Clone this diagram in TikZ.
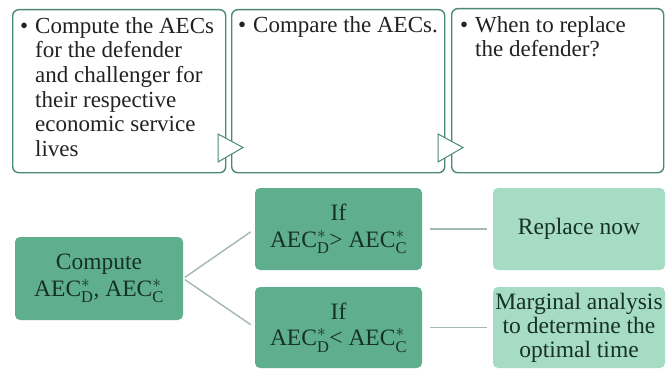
\documentclass[tikz,border=0pt]{standalone}
\usepackage{fontspec}
\setmainfont{Liberation Serif}
\definecolor{edgegreen}{HTML}{4A8A74}
\definecolor{midgreen}{HTML}{5FAE8E}
\definecolor{lightgreen}{HTML}{A6DCC4}
\definecolor{connline}{HTML}{A3B8AE}
\definecolor{textdark}{HTML}{222222}
\definecolor{textgreen}{HTML}{16302A}
\begin{document}
\begin{tikzpicture}[x=1pt,y=-1pt,
  topbox/.style={draw=edgegreen, line width=1.4pt, rounded corners=6pt, fill=white, inner sep=0pt, anchor=north west},
  toptext/.style={font=\fontsize{23}{24.7}\selectfont, align=left, inner sep=0pt, text=textdark, anchor=north west},
  tri/.style={draw=edgegreen, line width=1pt, fill=white, line join=miter},
  midbox/.style={fill=midgreen, rounded corners=5pt, inner sep=0pt, align=center, text=textgreen, font=\fontsize{23.5}{26.5}\selectfont},
  lightbox/.style={fill=lightgreen, rounded corners=5pt, inner sep=0pt, align=center, text=textgreen, font=\fontsize{23.5}{24}\selectfont},
  conn/.style={draw=connline, line width=1.4pt}
]
\useasboundingbox (0,0) rectangle (666,369);
\fill[white] (0,0) rectangle (666,369);

% top boxes
\node[topbox, minimum width=213pt, minimum height=163pt] (b1) at (12,9) {};
\node[topbox, minimum width=213pt, minimum height=163pt] (b2) at (231,9) {};
\node[topbox, minimum width=212pt, minimum height=164pt] (b3) at (451,8) {};

% arrow triangles
\draw[tri] (218,134) -- (243,147.5) -- (218,162) -- cycle;
\draw[tri] (438,134) -- (463,147.5) -- (438,162) -- cycle;

% top texts
\node[toptext] (t1) at (35,17) {\llap{\textbullet\hspace{7pt}}Compute the AECs\\for the defender\\and challenger for\\their respective\\economic service\\lives};
\node[toptext] (t2) at (253,16) {\llap{\textbullet\hspace{7pt}}Compare the AECs.};
\node[toptext] (t3) at (475,16) {\llap{\textbullet\hspace{7pt}}When to replace\\the defender?};

% bottom flow
\node[midbox, minimum width=168pt, minimum height=83pt] (cmp) at (99,278.5) {Compute\\AEC$^*_\mathrm{D}$, AEC$^*_\mathrm{C}$};
\node[midbox, minimum width=167pt, minimum height=82pt] (ifA) at (338.5,229) {If\\AEC$^*_\mathrm{D}$> AEC$^*_\mathrm{C}$};
\node[midbox, minimum width=167pt, minimum height=81pt] (ifB) at (338.5,327.5) {If\\AEC$^*_\mathrm{D}$< AEC$^*_\mathrm{C}$};
\node[lightbox, minimum width=172pt, minimum height=82pt] (rA) at (579,229) {Replace now};
\node[lightbox, minimum width=172pt, minimum height=81pt] (rB) at (579,327.5) {Marginal analysis\\to determine the\\optimal time};

\draw[conn, shorten <=2pt, shorten >=5pt] (cmp.east) -- (ifA.west);
\draw[conn, shorten <=2pt, shorten >=5pt] (cmp.east) -- (ifB.west);
\draw[conn, shorten <=8pt, shorten >=6pt] (ifA.east) -- (rA.west);
\draw[conn, shorten <=8pt, shorten >=6pt] (ifB.east) -- (rB.west);
\end{tikzpicture}
\end{document}
